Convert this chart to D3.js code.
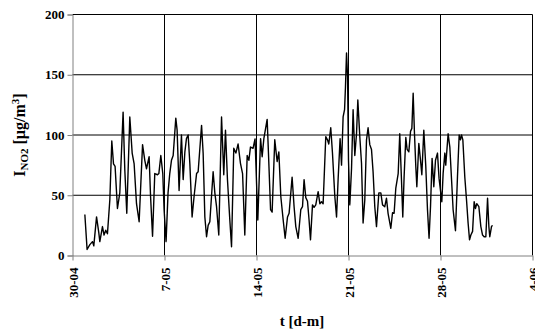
<!DOCTYPE html>
<html><head><meta charset="utf-8">
<script src="https://cdn.jsdelivr.net/npm/d3@7"></script>
<style>
body{margin:0;background:#fff;}
</style></head>
<body><svg id="c" width="535" height="332"></svg>
<script>
// days since 30-04 00:00
const dayOffset = [0.94,1.11,1.32,1.52,1.62,1.83,2.00,2.08,2.28,2.40,2.53,2.66,2.84,2.99,3.12,3.24,3.42,3.60,3.85,3.98,4.13,4.36,4.54,4.69,4.87,5.07,5.33,5.50,5.63,5.83,5.94,6.09,6.26,6.47,6.57,6.72,6.87,6.97,7.12,7.27,7.40,7.53,7.66,7.86,7.96,8.11,8.29,8.42,8.55,8.67,8.80,8.93,9.10,9.25,9.44,9.56,9.82,9.94,10.07,10.20,10.32,10.45,10.70,10.83,10.96,11.13,11.34,11.51,11.64,11.79,11.97,12.10,12.27,12.43,12.60,12.78,12.94,13.11,13.29,13.42,13.54,13.74,13.89,14.10,14.31,14.43,14.56,14.81,14.91,15.07,15.19,15.39,15.57,15.70,15.85,16.03,16.18,16.36,16.48,16.71,16.86,16.99,17.17,17.37,17.50,17.62,17.75,17.88,18.00,18.11,18.26,18.38,18.51,18.69,18.82,18.95,19.07,19.27,19.40,19.50,19.65,19.78,19.96,20.09,20.21,20.36,20.47,20.59,20.70,20.77,20.85,20.93,21.00,21.10,21.23,21.35,21.48,21.61,21.71,21.86,21.99,22.11,22.24,22.37,22.49,22.62,22.75,22.87,23.00,23.13,23.31,23.46,23.59,23.76,23.89,24.01,24.22,24.35,24.47,24.60,24.78,24.90,25.03,25.13,25.23,25.36,25.46,25.59,25.72,25.82,25.92,26.02,26.12,26.20,26.35,26.48,26.58,26.73,26.88,27.01,27.13,27.24,27.36,27.49,27.62,27.77,27.89,28.10,28.20,28.33,28.40,28.58,28.71,28.84,28.96,29.14,29.29,29.42,29.52,29.60,29.70,29.85,29.98,30.10,30.21,30.31,30.44,30.56,30.66,30.76,30.92,31.07,31.20,31.32,31.45,31.58,31.68,31.75,31.88,31.96];
const no2 = [34,5,9,11.5,8,32,19,11.5,24,17,21,18,46,95,76,74,39,52,119,71,35,115,85,76,43,28,92,79,72,82,49,16,68,67,68,83,68,38,11.5,52,68,79,83,114,104,54,100,63,86,97,100,76,32,49,68,69.5,108,85,32,15.6,25,28,69.5,52,40.5,17,115,67,104,63,29.5,7.3,89,85,92.5,76.5,68,17,83,79,90,89,96.7,29.5,97,82,97,113,85,38,36,96,78,86,49,29.5,14.3,32,35,65,40.5,24,14.3,38,40.5,63,48,45,29.5,13,42,40,42,53,43,44.6,43,98.6,96,92.5,106,85,49,32,63,97,75,115,121,140,168,148,79,42,72,121,83,101,129,98.6,76.5,27,46,96,106,92,88,69.5,40.5,24,52,52,42,40.5,47.5,35,22.6,35.5,35,56,68,101,63,32,65,98,88,86,103,105.5,134.6,101,74,57,93,79,67,104,74,38,14.3,40.5,80.6,57,79,85,64,44.6,68,85,75,101,90,63,38,20.6,65,100,96,100,96,65,46,27,13,17,20,44.6,39,43,40.5,24,17,15.6,15.6,47.5,24,15.6,24,25];
const xTickDays = [0,7,14,21,28,35];
const xTickLabels = ["30-04","7-05","14-05","21-05","28-05","4-06"];
const yTicks = [0,50,100,150,200];

const FONT = "'Liberation Serif','Times New Roman',serif";
const svg = d3.select("#c");
const L=72.5, R=532.5, T=14.5, B=255.5;
const x = d3.scaleLinear().domain([0,35]).range([L,R]);
const y = d3.scaleLinear().domain([0,200]).range([B,T]);

// gridlines
svg.append("g").selectAll("line").data(yTicks.filter(d=>d>0)).join("line")
  .attr("x1",L).attr("x2",R).attr("y1",d=>y(d)).attr("y2",d=>y(d))
  .attr("stroke","#000").attr("stroke-width",1);
svg.append("g").selectAll("line").data(xTickDays.filter(d=>d>0)).join("line")
  .attr("y1",T).attr("y2",B).attr("x1",d=>x(d)).attr("x2",d=>x(d))
  .attr("stroke","#000").attr("stroke-width",1);

// axes
const ya = svg.append("g").attr("transform",`translate(${L},0)`)
  .call(d3.axisLeft(y).tickValues(yTicks).tickSize(5).tickPadding(3));
ya.attr("font-family",null);
ya.select(".domain").attr("stroke","#808080");
ya.selectAll(".tick line").attr("stroke","#808080");
ya.selectAll("text").style("font-size","13px").style("font-family",FONT).style("font-weight","bold").attr("fill","#000");

const xa = svg.append("g").attr("transform",`translate(0,${B})`)
  .call(d3.axisBottom(x).tickValues(xTickDays).tickFormat((d,i)=>xTickLabels[i]).tickSize(5).tickSizeOuter(0));
xa.attr("font-family",null);
xa.select(".domain").attr("stroke","#808080");
xa.selectAll(".tick line").attr("stroke","#808080");
xa.selectAll("text").style("font-size","13px").style("font-family",FONT).style("font-weight","bold").attr("fill","#000")
  .attr("transform","rotate(-90)").attr("text-anchor","end")
  .attr("x",-12).attr("y",0).attr("dy","0.35em");

// line
const line = d3.line().x((d,i)=>x(dayOffset[i])).y(d=>y(d));
svg.append("path").datum(no2).attr("d",line)
  .attr("fill","none").attr("stroke","#000").attr("stroke-width",1.4).attr("stroke-linejoin","round");

// axis titles
svg.append("text").attr("x",302).attr("y",326).attr("text-anchor","middle")
  .style("font-family",FONT).style("font-weight","bold")
  .style("font-size","15px").text("t [d-m]");
const yl = svg.append("text").attr("transform","translate(25,135) rotate(-90)")
  .attr("text-anchor","middle").style("font-family",FONT).style("font-weight","bold").style("font-size","16px");
yl.append("tspan").text("I");
yl.append("tspan").attr("dy",3).style("font-size","11px").text("NO2");
yl.append("tspan").attr("dy",-3).text(" [µg/m");
yl.append("tspan").attr("dy",-6).style("font-size","11px").text("3");
yl.append("tspan").attr("dy",6).text("]");
</script></body></html>
